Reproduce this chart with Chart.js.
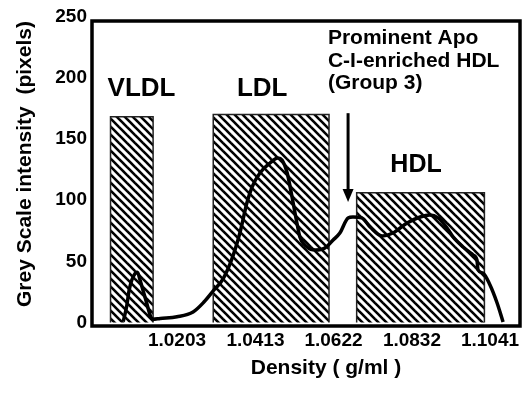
<!DOCTYPE html>
<html>
<head>
<meta charset="utf-8">
<script src="https://cdn.jsdelivr.net/npm/chart.js@4.4.0/dist/chart.umd.min.js"></script>
<style>
  html, body { margin: 0; padding: 0; background: #fff; }
  #wrap { width: 523px; height: 393px; }
</style>
</head>
<body>
<div id="wrap"><canvas id="chart" width="523" height="393"></canvas></div>
<script>
// densitometric scan of the gradient (x = density g/ml, y = grey scale pixels)
const densities = [
  1.0059, 1.0068, 1.0075, 1.0082, 1.0091, 1.0097, 1.0104, 1.0113, 1.0122, 1.0131,
  1.0138, 1.0158, 1.0203, 1.0246, 1.0275, 1.0302, 1.0326, 1.0350, 1.0372, 1.0390,
  1.0404, 1.0425, 1.0452, 1.0473, 1.0484, 1.0498, 1.0511, 1.0524, 1.0532, 1.0551,
  1.0573, 1.0599, 1.0621, 1.0639, 1.0661, 1.0674, 1.0698, 1.0720, 1.0752, 1.0781,
  1.0819, 1.0854, 1.0880, 1.0902, 1.0926, 1.0942, 1.0969, 1.0996, 1.1006, 1.1009,
  1.1022, 1.1041, 1.1060, 1.1076
];
const intensity = [
  0.7, 12.9, 26.6, 34.7, 40.2, 41.0, 34.7, 25.2, 15.7, 6.1,
  2.6, 3.3, 4.7, 8.6, 16.7, 26.6, 35.5, 51.9, 73.9, 97.6,
  110.7, 122.1, 130.3, 134.4, 132.8, 122.1, 102.5, 81.3, 69.9, 61.7,
  59.2, 60.9, 67.4, 73.1, 85.4, 86.2, 85.4, 78.0, 70.7, 73.1,
  81.3, 86.2, 87.8, 85.4, 77.2, 69.9, 61.7, 55.1, 51.1, 42.9,
  40.4, 30.6, 15.9, 0.4
];

// hatched lipoprotein fractions
const fractionNames = ['VLDL', 'LDL', 'HDL'];
const fractionStart = [1.0025, 1.0300, 1.0684];
const fractionEnd = [1.0139, 1.0610, 1.1026];
const fractionHeight = [168, 170, 106];

const densityTicks = [1.0203, 1.0413, 1.0622, 1.0832, 1.1041];
const densityLabels = ['1.0203', '1.0413', '1.0622', '1.0832', '1.1041'];
const intensityTicks = [0, 50, 100, 150, 200, 250];

const FONT = '"Liberation Sans", Arial, sans-serif';

function makeHatch() {
    const c = document.createElement('canvas');
    c.width = 8; c.height = 8;
    const g = c.getContext('2d');
    g.strokeStyle = '#000';
    g.lineWidth = 2.6;
    for (let k = -1; k <= 1; k++) {
        g.beginPath();
        g.moveTo(k * 8 - 1, -1);
        g.lineTo(k * 8 + 9, 9);
        g.stroke();
    }
    return g.createPattern(c, 'repeat');
}
const hatch = makeHatch();

const scanData = densities.map((d, i) => ({ x: d, y: intensity[i] }));

const fractionSets = fractionNames.map((name, i) => ({
    label: name,
    data: [
        { x: fractionStart[i], y: 0 },
        { x: fractionStart[i], y: fractionHeight[i] },
        { x: fractionEnd[i], y: fractionHeight[i] },
        { x: fractionEnd[i], y: 0 }
    ],
    backgroundColor: hatch,
    borderColor: '#222',
    borderWidth: 1.5,
    fill: 'origin',
    tension: 0,
    pointRadius: 0,
    order: 2
}));

// labels, arrow, frame and axis titles
const decorations = {
    id: 'decorations',
    afterDatasetsDraw(chart) {
        const { ctx, chartArea: a, scales: { x, y } } = chart;
        ctx.save();
        ctx.strokeStyle = '#000';
        ctx.fillStyle = '#000';

        ctx.lineWidth = 3.5;
        ctx.strokeRect(a.left, a.top, a.right - a.left, a.bottom - a.top);

        // arrow pointing at the group 3 peak
        const ax = x.getPixelForValue(1.0661);
        const top = y.getPixelForValue(171);
        const tip = y.getPixelForValue(98.5);
        ctx.lineWidth = 3;
        ctx.beginPath();
        ctx.moveTo(ax, top);
        ctx.lineTo(ax, tip - 10);
        ctx.stroke();
        ctx.beginPath();
        ctx.moveTo(ax - 5.5, tip - 13);
        ctx.lineTo(ax + 5.5, tip - 13);
        ctx.lineTo(ax, tip);
        ctx.closePath();
        ctx.fill();

        ctx.textBaseline = 'alphabetic';
        ctx.textAlign = 'center';
        ctx.font = 'bold 26px ' + FONT;
        ctx.fillText(fractionNames[0], x.getPixelForValue(1.0108), y.getPixelForValue(185));
        ctx.fillText(fractionNames[1], x.getPixelForValue(1.0431), y.getPixelForValue(185));
        ctx.font = 'bold 25px ' + FONT;
        ctx.fillText(fractionNames[2], x.getPixelForValue(1.0843), y.getPixelForValue(123));

        ctx.textAlign = 'left';
        ctx.font = 'bold 21px ' + FONT;
        const tx = x.getPixelForValue(1.0607);
        ctx.fillText('Prominent Apo', tx, y.getPixelForValue(227.5));
        ctx.fillText('C-I-enriched HDL', tx, y.getPixelForValue(209));
        ctx.fillText('(Group 3)', tx, y.getPixelForValue(191));

        // axis titles
        ctx.textAlign = 'center';
        ctx.font = 'bold 21px ' + FONT;
        ctx.fillText('Density ( g/ml )', 326, 374);
        ctx.translate(31, 164);
        ctx.rotate(-Math.PI / 2);
        ctx.fillText('Grey Scale intensity  (pixels)', 0, 0);
        ctx.restore();
    }
};

const ctx = document.getElementById('chart').getContext('2d');
new Chart(ctx, {
    type: 'line',
    data: {
        datasets: [{
            label: 'Scan',
            data: scanData,
            borderColor: '#000',
            borderWidth: 3.5,
            fill: false,
            pointRadius: 0,
            cubicInterpolationMode: 'monotone',
            order: 0
        }].concat(fractionSets)
    },
    options: {
        responsive: false,
        devicePixelRatio: 1,
        animation: false,
        events: [],
        layout: { padding: { top: 21, right: 3, left: 0, bottom: 0 } },
        plugins: { legend: { display: false }, tooltip: { enabled: false } },
        scales: {
            x: {
                type: 'linear',
                min: 0.99754,
                max: 1.11213,
                grid: { display: false, drawTicks: false },
                border: { display: false },
                afterBuildTicks: axis => { axis.ticks = densityTicks.map(v => ({ value: v })); },
                afterFit: axis => { axis.height = 67; },
                ticks: {
                    autoSkip: false,
                    maxRotation: 0,
                    padding: 3,
                    color: '#000',
                    font: { family: FONT, size: 19, weight: 'bold' },
                    callback: (value, index) => densityLabels[index]
                }
            },
            y: {
                type: 'linear',
                min: -2.86,
                max: 246.3,
                grid: { display: false, drawTicks: false },
                border: { display: false },
                afterBuildTicks: axis => { axis.ticks = intensityTicks.map(v => ({ value: v })); },
                afterFit: axis => { axis.width = 92; },
                ticks: {
                    autoSkip: false,
                    padding: 5,
                    color: '#000',
                    font: { family: FONT, size: 19, weight: 'bold' },
                    callback: value => String(value)
                }
            }
        }
    },
    plugins: [decorations]
});
</script>
</body>
</html>
